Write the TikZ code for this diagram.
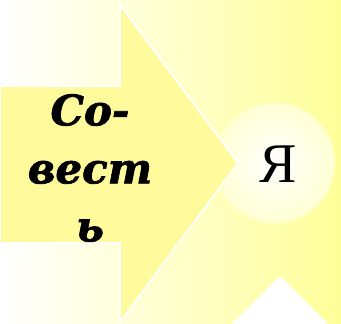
\documentclass[tikz,border=0pt]{standalone}
\usepackage{fontspec}
\setmainfont{Liberation Serif}
\newfontfamily\wordfont[BoldItalicFeatures={FakeBold=1.6}]{DejaVu Serif}
\definecolor{sunyellow}{HTML}{FFFF99}
\definecolor{arrowyellow}{HTML}{FFFA9B}
\definecolor{glowcore}{HTML}{FFFFF4}
\definecolor{glowmid}{HTML}{FFFFD2}
\definecolor{glowedge}{HTML}{FFFFBA}
\pgfdeclareradialshading{glow}{\pgfpoint{0bp}{0bp}}{color(0bp)=(white); color(6bp)=(glowcore); color(26bp)=(glowmid); color(50bp)=(glowedge)}
\begin{document}
\begin{tikzpicture}[x=1pt,y=1pt,
    pointer/.style={fill=arrowyellow,draw=white,line width=1.8pt,line join=miter},
    word/.style={font=\wordfont\bfseries\itshape\fontsize{42}{58}\selectfont,align=center,inner sep=0pt}]
        \useasboundingbox (0,0) rectangle (341,324);
        \shade[left color=white,right color=sunyellow] (0,0) rectangle (341,324);
        \shade[shading=glow] (275,161) circle (60);
        \draw[pointer] (0,238) -- (120,238) -- (120,319) -- (238,161) -- (120,2) -- (120,81) -- (0,81) -- cycle;
        \fill[white] (232,0) -- (280,48) -- (328,0) -- cycle;
        \node[word] (sovest) at (90,156) {Со-\\вест\\ь};
        \node[font=\fontsize{56}{60}\selectfont] (ya) at (278,160) {Я};
      \end{tikzpicture}
\end{document}
